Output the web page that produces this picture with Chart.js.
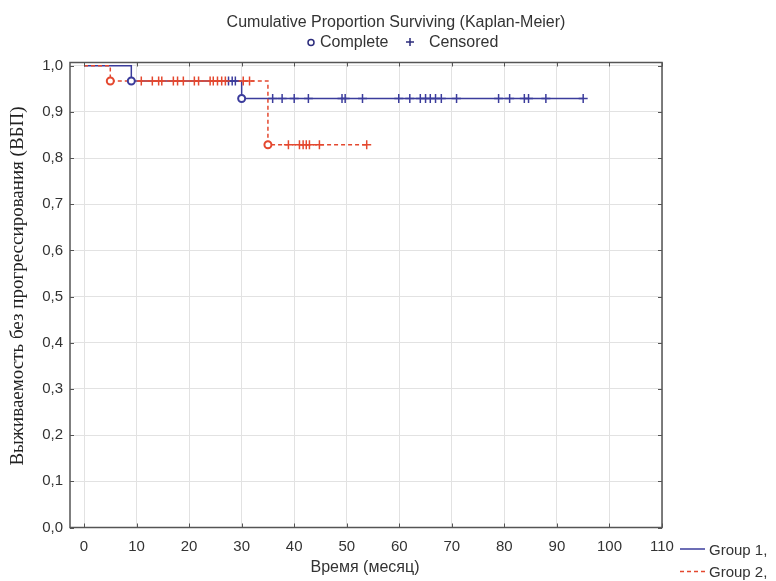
<!DOCTYPE html>
<html>
<head>
<meta charset="utf-8">
<script src="https://cdn.jsdelivr.net/npm/chart.js@4.4.1/dist/chart.umd.min.js"></script>
<style>
  html, body { margin: 0; padding: 0; background: #fff; }
  #wrap { width: 776px; height: 581px; }
</style>
</head>
<body>
<div id="wrap"><canvas id="km" width="776" height="581"></canvas></div>
<script>
// Kaplan-Meier estimates, time in months
var xTicks = [0, 10, 20, 30, 40, 50, 60, 70, 80, 90, 100, 110];
var yTicks = [0, 0.1, 0.2, 0.3, 0.4, 0.5, 0.6, 0.7, 0.8, 0.9, 1.0];

// Group 1
var g1Events = [9, 30];
var g1Levels = [1.0, 0.967, 0.929];
var g1Censored = [27.5, 28.2, 28.8, 35.9, 37.7, 40.0, 42.7, 49.1, 49.7, 53.0, 59.9, 62.0,
                  64.0, 65.0, 65.9, 66.9, 68.0, 70.9, 78.9, 81.0, 83.8, 84.6, 87.9, 95.0];
var g1End = 95;

// Group 2
var g2Events = [5, 35];
var g2Levels = [1.0, 0.967, 0.829];
var g2Censored = [10.9, 13.0, 14.2, 14.8, 17.0, 17.8, 18.9, 21.0, 21.8, 24.0, 24.6, 25.4,
                  26.2, 26.9, 30.3, 31.5, 38.9, 41.0, 41.7, 42.3, 42.9, 44.8, 53.8];
var g2End = 54;

var BLUE = '#3b3c9c';
var RED = '#e4482f';
var FONT = '"Liberation Sans", Arial, sans-serif';

function levelAt(t, events, levels) {
  var k = 0;
  for (var i = 0; i < events.length; i++) if (t >= events[i]) k = i + 1;
  return levels[k];
}

function stepLine(events, levels, end) {
  var pts = [{x: 0, y: levels[0]}];
  events.forEach(function(e, i) {
    pts.push({x: e, y: levels[i]});
    pts.push({x: e, y: levels[i + 1]});
  });
  pts.push({x: end, y: levels[levels.length - 1]});
  return pts;
}

function eventPoints(events, levels) {
  return events.map(function(e, i) { return {x: e, y: levels[i + 1]}; });
}

function censorPoints(times, events, levels) {
  return times.map(function(t) { return {x: t, y: levelAt(t, events, levels)}; });
}

var decor = {
  id: 'decor',
  beforeDraw: function(chart) {
    var ctx = chart.ctx;
    ctx.save();
    ctx.fillStyle = '#fff';
    ctx.fillRect(0, 0, chart.width, chart.height);
    ctx.restore();
  },
  afterDraw: function(chart) {
    var ctx = chart.ctx, a = chart.chartArea;
    var x = chart.scales.x, y = chart.scales.y;
    ctx.save();

    // frame with inward ticks
    ctx.strokeStyle = '#555';
    ctx.lineWidth = 1.5;
    ctx.strokeRect(a.left, a.top, a.right - a.left, a.bottom - a.top);
    ctx.lineWidth = 1;
    ctx.beginPath();
    xTicks.forEach(function(v) {
      var px = Math.round(x.getPixelForValue(v)) + 0.5;
      ctx.moveTo(px, a.bottom); ctx.lineTo(px, a.bottom - 4);
      ctx.moveTo(px, a.top); ctx.lineTo(px, a.top + 4);
    });
    yTicks.forEach(function(v) {
      var py = Math.round(y.getPixelForValue(v)) + 0.5;
      ctx.moveTo(a.left, py); ctx.lineTo(a.left + 4, py);
      ctx.moveTo(a.right, py); ctx.lineTo(a.right - 4, py);
    });
    ctx.stroke();

    // title and marker key
    ctx.fillStyle = '#333';
    ctx.font = '16px ' + FONT;
    ctx.textAlign = 'center';
    ctx.textBaseline = 'alphabetic';
    ctx.fillText('Cumulative Proportion Surviving (Kaplan-Meier)', 396, 27);
    ctx.textAlign = 'left';
    ctx.fillText('Complete', 320, 47);
    ctx.fillText('Censored', 429, 47);
    ctx.strokeStyle = '#2c2c7c';
    ctx.lineWidth = 1.5;
    ctx.beginPath();
    ctx.arc(311, 42.5, 3, 0, Math.PI * 2);
    ctx.stroke();
    ctx.beginPath();
    ctx.moveTo(406, 42); ctx.lineTo(414, 42);
    ctx.moveTo(410, 38); ctx.lineTo(410, 46);
    ctx.stroke();

    // axis titles
    ctx.fillStyle = '#333';
    ctx.textAlign = 'center';
    ctx.fillText('Время (месяц)', 365, 572);
    ctx.save();
    ctx.translate(18, 286);
    ctx.rotate(-Math.PI / 2);
    ctx.font = '19px "Liberation Serif", "Times New Roman", serif';
    ctx.textBaseline = 'middle';
    ctx.fillStyle = '#222';
    ctx.fillText('Выживаемость без прогрессирования (ВБП)', 0, 0);
    ctx.restore();

    // group key
    ctx.lineWidth = 1.5;
    ctx.strokeStyle = BLUE;
    ctx.beginPath(); ctx.moveTo(680, 549); ctx.lineTo(705, 549); ctx.stroke();
    ctx.strokeStyle = RED;
    ctx.setLineDash([4, 3]);
    ctx.beginPath(); ctx.moveTo(680, 571.5); ctx.lineTo(705, 571.5); ctx.stroke();
    ctx.setLineDash([]);
    ctx.fillStyle = '#333';
    ctx.font = '15px ' + FONT;
    ctx.textAlign = 'left';
    ctx.fillText('Group 1,', 709, 555);
    ctx.fillText('Group 2,', 709, 577);

    ctx.restore();
  }
};

var ctx = document.getElementById('km').getContext('2d');
new Chart(ctx, {
  type: 'scatter',
  data: {
    datasets: [
      {
        label: 'Group 2 events', order: 0,
        data: eventPoints(g2Events, g2Levels),
        pointStyle: 'circle', pointRadius: 3.5, pointBorderWidth: 2,
        borderColor: RED, backgroundColor: '#fff', showLine: false
      },
      {
        label: 'Group 1 events', order: 1,
        data: eventPoints(g1Events, g1Levels),
        pointStyle: 'circle', pointRadius: 3.5, pointBorderWidth: 2,
        borderColor: BLUE, backgroundColor: '#fff', showLine: false
      },
      {
        label: 'Group 2 censored', order: 2,
        data: censorPoints(g2Censored, g2Events, g2Levels),
        pointStyle: 'cross', pointRadius: 4.5, pointBorderWidth: 1.5,
        borderColor: RED, showLine: false
      },
      {
        label: 'Group 1 censored', order: 3,
        data: censorPoints(g1Censored, g1Events, g1Levels),
        pointStyle: 'cross', pointRadius: 4.5, pointBorderWidth: 1.5,
        borderColor: BLUE, showLine: false
      },
      {
        label: 'Group 2', order: 4,
        data: stepLine(g2Events, g2Levels, g2End),
        showLine: true, pointRadius: 0, borderColor: RED, borderWidth: 1.5,
        borderDash: [4, 3], tension: 0
      },
      {
        label: 'Group 1', order: 5,
        data: stepLine(g1Events, g1Levels, g1End),
        showLine: true, pointRadius: 0, borderColor: BLUE, borderWidth: 1.5,
        tension: 0
      }
    ]
  },
  options: {
    responsive: false,
    animation: false,
    devicePixelRatio: 1,
    layout: { padding: { top: 62.5, right: 114, bottom: 0, left: 0 } },
    plugins: {
      legend: { display: false },
      title: { display: false },
      tooltip: { enabled: false }
    },
    scales: {
      x: {
        type: 'linear',
        min: -2.67,
        max: 110,
        afterBuildTicks: function(s) { s.ticks = xTicks.map(function(v) { return {value: v}; }); },
        afterFit: function(s) { s.height = 53.5; },
        border: { display: false },
        grid: { color: '#e2e2e2', lineWidth: 1, drawTicks: false },
        ticks: {
          color: '#333', padding: 10, maxRotation: 0,
          font: { family: FONT, size: 15 },
          callback: function(v) { return String(v); }
        }
      },
      y: {
        type: 'linear',
        min: 0,
        max: 1.007,
        afterBuildTicks: function(s) { s.ticks = yTicks.map(function(v) { return {value: v}; }); },
        afterFit: function(s) { s.width = 70; },
        border: { display: false },
        grid: { color: '#e2e2e2', lineWidth: 1, drawTicks: false },
        ticks: {
          color: '#333', padding: 7,
          font: { family: FONT, size: 15 },
          callback: function(v) { return v.toFixed(1).replace('.', ','); }
        }
      }
    }
  },
  plugins: [decor]
});
</script>
</body>
</html>
